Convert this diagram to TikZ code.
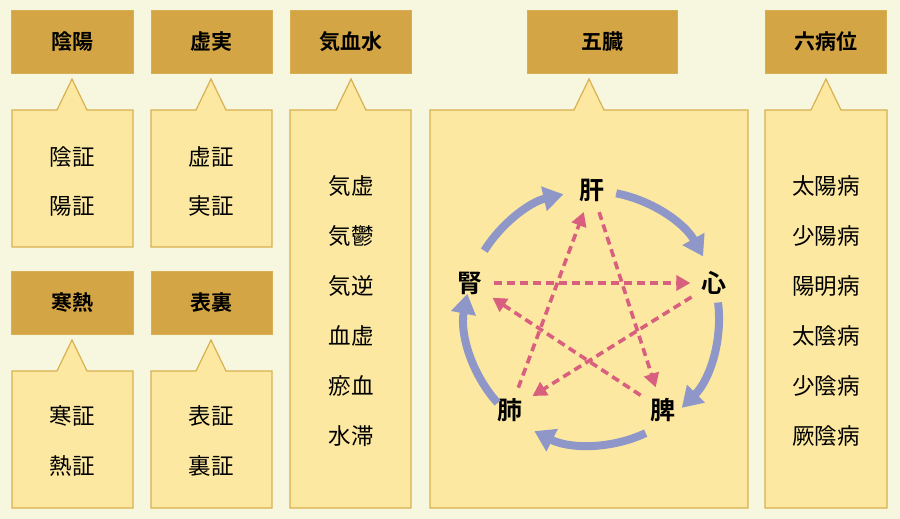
\documentclass[tikz,border=0pt]{standalone}
\usepackage{fontspec}
\setmainfont{Noto Sans CJK JP}[BoldFont={* Bold}]
\usetikzlibrary{arrows.meta,calc}
\definecolor{bg}{HTML}{F7F7E0}
\definecolor{hd}{HTML}{D4A544}
\definecolor{bx}{HTML}{FCE8A0}
\definecolor{bd}{HTML}{D9B050}
\definecolor{blu}{HTML}{8E97C8}
\definecolor{rd}{HTML}{D95F7F}
\tikzset{
 head/.style={fill=hd,draw=hd!90!white,line width=0.6pt,anchor=north west,minimum height=63pt,font=\bfseries\fontsize{21pt}{21pt}\selectfont,inner sep=0pt},
 item/.style={font=\fontsize{22.5pt}{22.5pt}\selectfont,inner sep=0pt},
 organ/.style={font=\bfseries\fontsize{25pt}{25pt}\selectfont,inner sep=3pt},
 cyc/.style={blu,line width=8pt,-{Triangle[length=20pt,width=24pt]}},
 ctl/.style={rd,line width=3.6pt,dash pattern=on 8pt off 5pt,-{Triangle[length=14pt,width=15pt]},shorten >=8pt,shorten <=8pt},
 cbox/.style={fill=bx,draw=bd,line width=1.2pt,line join=miter}
}
\newcommand\mycallout[6]{\draw[cbox] (#1,#2) -- (#5-15,#2) -- (#5,#6) -- (#5+15,#2) -- (#3,#2) -- (#3,#4) -- (#1,#4) -- cycle;}
\begin{document}
\begin{tikzpicture}[x=1pt,y=-1pt]
\fill[bg] (0,0) rectangle (900,519);
\useasboundingbox (0,0) rectangle (900,519);
% headers
\node[head,minimum width=122pt] (h1) at (11,10) {陰陽};
\node[head,minimum width=121pt] (h2) at (151,10) {虚実};
\node[head,minimum width=121pt] (h3) at (290,10) {気血水};
\node[head,minimum width=150pt] (h4) at (527,10) {五臓};
\node[head,minimum width=121pt] (h5) at (765,10) {六病位};
\node[head,minimum width=122pt] (h6) at (11,271) {寒熱};
\node[head,minimum width=121pt] (h7) at (151,271) {表裏};
% callouts
\mycallout{12}{110}{133}{247}{72}{79}
\mycallout{151}{110}{272}{247}{211}{79}
\mycallout{290}{110}{411}{508}{351}{79}
\mycallout{430}{110}{748}{508}{589}{79}
\mycallout{765}{110}{887}{508}{826}{79}
\mycallout{12}{371}{133}{508}{72}{340}
\mycallout{151}{371}{272}{508}{211}{340}
% items
\node[item] (a1) at (72,157) {陰証};
\node[item] (a2) at (72,206) {陽証};
\node[item] (b1) at (211,157) {虚証};
\node[item] (b2) at (211,206) {実証};
\node[item] (e1) at (72,416) {寒証};
\node[item] (e2) at (72,466) {熱証};
\node[item] (f1) at (211,416) {表証};
\node[item] (f2) at (211,466) {裏証};
\foreach \t [count=\i] in {気虚,気鬱,気逆,血虚,瘀血,水滞}
  \node[item] (c\i) at (351,{136+50*\i}) {\t};
\foreach \t [count=\i] in {太陽病,少陽病,陽明病,太陰病,少陰病,厥陰病}
  \node[item] (r\i) at (826,{136+50*\i}) {\t};
% five organs
\coordinate (ctr) at (592,318);
\node[organ] (kan) at (592,190) {肝};
\node[organ] (shin) at (714,283) {心};
\node[organ] (hi) at (663,410) {脾};
\node[organ] (hai) at (510,410) {肺};
\node[organ] (jin) at (470,283) {腎};
\foreach \s/\e in {79/29, 7/-45, -65/-117, -138/-191, 148/103}
  \draw[cyc] ($(ctr)+(\s:127pt)$) arc[start angle=\s,end angle=\e,radius=127pt];
\draw[ctl] (kan) -- (hi);
\draw[ctl] (hi) -- (jin);
\draw[ctl] (jin) -- (shin);
\draw[ctl] (shin) -- (hai);
\draw[ctl] (hai) -- (kan);
\end{tikzpicture}
\end{document}
